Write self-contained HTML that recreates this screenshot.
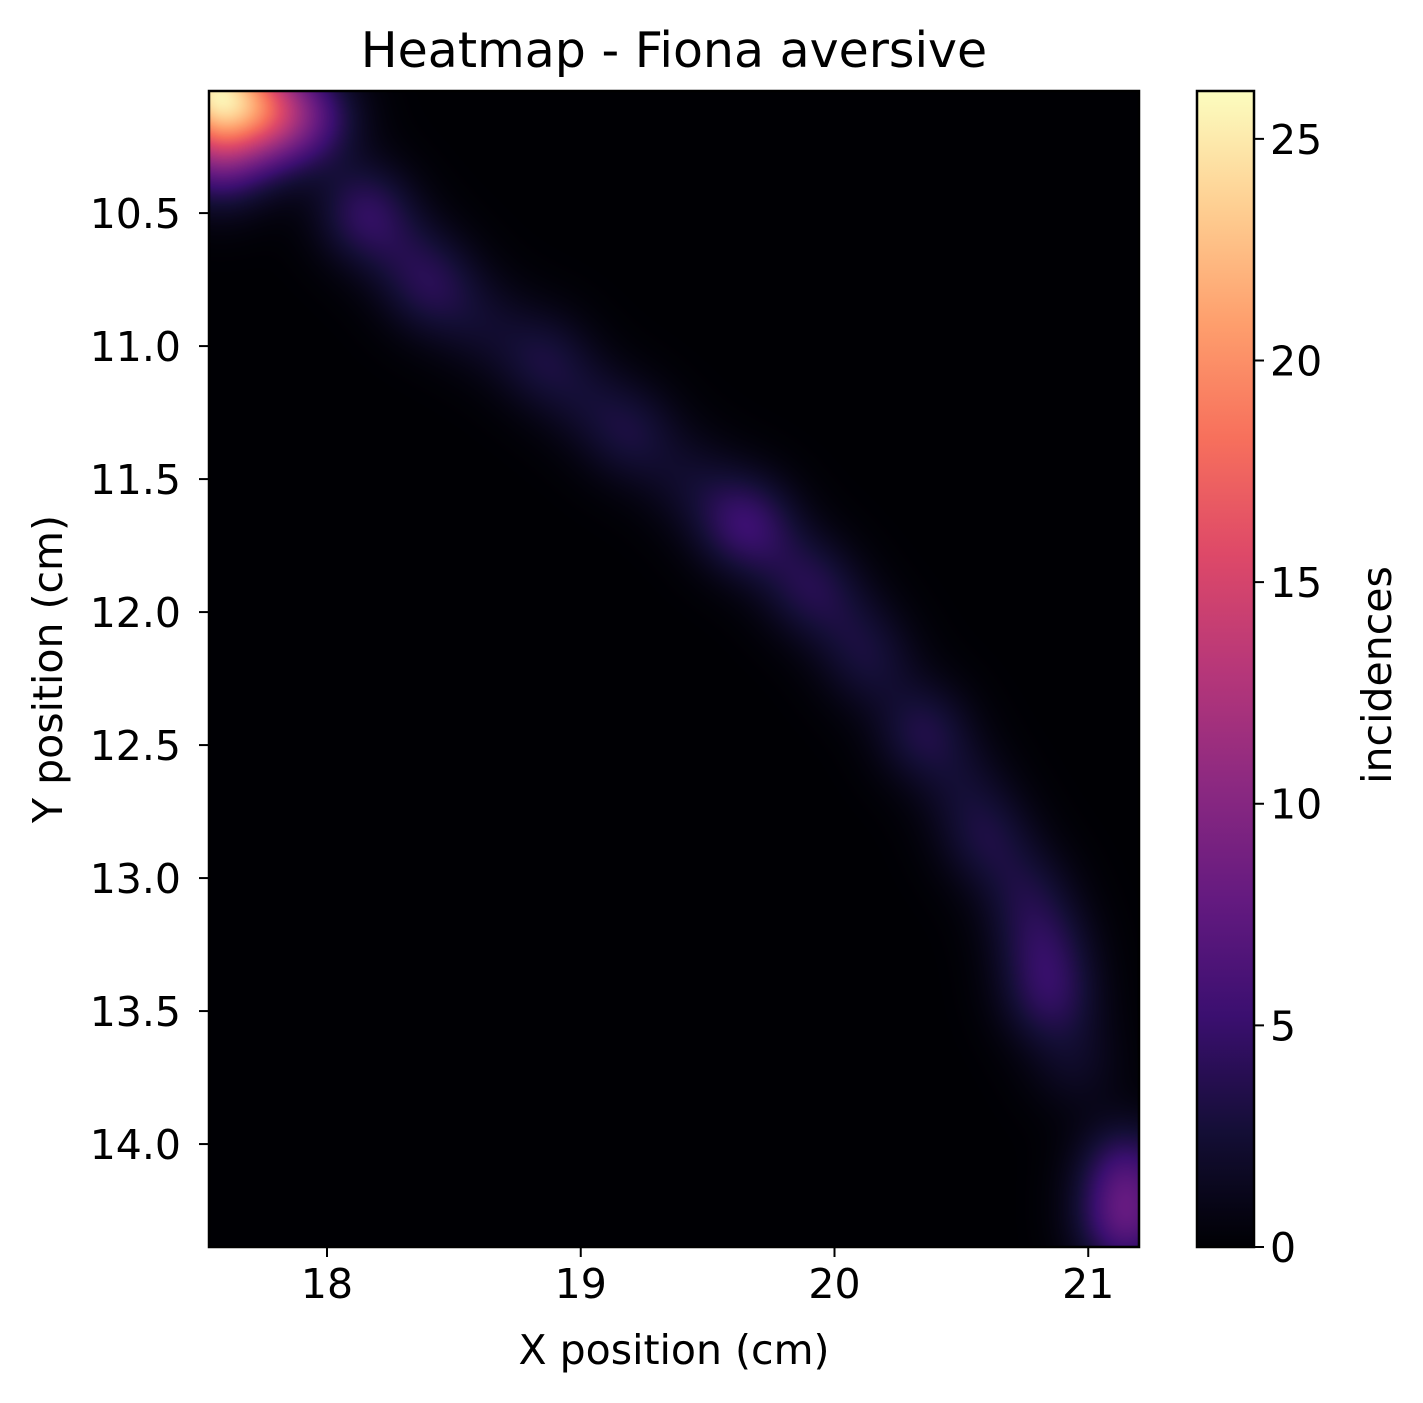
<!DOCTYPE html>
<html><head><meta charset="utf-8"><style>
body{margin:0;background:#fff;width:1423px;height:1403px;overflow:hidden;font-family:"DejaVu Sans","Liberation Sans",sans-serif}
#wrap{position:relative;width:1423px;height:1403px}
canvas{position:absolute;left:209px;top:91px}
svg{position:absolute;left:0;top:0}
</style></head><body>
<div id="wrap">
<canvas id="hm" width="930" height="1156"></canvas>
<svg id="s" width="1423" height="1403"></svg>
</div>
<script>
const ptX=[17.5,17.66,17.53,17.8,17.95,17.58,17.75,18.15,18.3,18.42,18.62,18.85,19.02,19.2,19.42,19.62,19.72,19.9,20.05,20.15,20.35,20.5,20.6,20.75,20.82,20.85,20.95,21.15,21.15];
const ptY=[10.0,10.06,10.2,10.1,10.15,10.32,10.22,10.5,10.65,10.78,10.92,11.05,11.2,11.33,11.5,11.65,11.72,11.9,12.05,12.2,12.45,12.65,12.85,13.05,13.25,13.45,13.7,14.1,14.3];
const ptV=[15,10,7,6,4,3,3,4,1.5,3,1.5,2.5,1.5,2.5,1.5,3.5,2,3,1.5,2,3,1.5,2.5,2.2,3,3.5,1.5,4.5,6];
const xTicks=[18,19,20,21];
const yTicks=[10.5,11.0,11.5,12.0,12.5,13.0,13.5,14.0];
const cTicks=[0,5,10,15,20,25];
const X0=17.535,X1=21.2,Y0=10.041,Y1=14.387,VMAX=26.08,SIG=0.13;
const L=209,T=91,W=930,H=1156;
const sx=v=>L+(v-X0)/(X1-X0)*W, sy=v=>T+(v-Y0)/(Y1-Y0)*H;
const CB={x:1197,w:57}; const cy=v=>T+H-v/VMAX*H;
const mag=[[0,0,4],[20,14,54],[59,15,112],[100,26,128],[140,41,129],[183,55,121],[222,73,104],[247,112,92],[254,159,109],[254,207,146],[252,253,191]];
function cmap(t){t=Math.max(0,Math.min(1,t));const f=t*10,i=Math.min(9,Math.floor(f)),r=f-i;return mag[i].map((c,k)=>c+(mag[i+1][k]-c)*r);}
const c=document.getElementById('hm').getContext('2d');const img=c.createImageData(W,H);
for(let py=0;py<H;py++){const yy=Y0+(py+0.5)/H*(Y1-Y0);for(let px=0;px<W;px++){const xx=X0+(px+0.5)/W*(X1-X0);let v=0;
for(let k=0;k<ptX.length;k++){const dx=xx-ptX[k],dy=yy-ptY[k];v+=ptV[k]*Math.exp(-(dx*dx+dy*dy)/(2*SIG*SIG));}
const col=cmap(v/VMAX),o=(py*W+px)*4;img.data[o]=col[0];img.data[o+1]=col[1];img.data[o+2]=col[2];img.data[o+3]=255;}}
c.putImageData(img,0,0);
const s=document.getElementById('s');const NS='http://www.w3.org/2000/svg';
function el(t,a,txt){const e=document.createElementNS(NS,t);for(const k in a)e.setAttribute(k,a[k]);if(txt!==undefined)e.textContent=txt;s.appendChild(e);return e;}
let e;
e=el('rect',{x:L,y:T,width:W,height:H,fill:'none',stroke:'#000','stroke-width':2.5});


xTicks.forEach(v=>{const x=sx(v);
e=el('line',{x1:x,x2:x,y1:T+H,y2:T+H+10,stroke:'#000','stroke-width':2});


e=el('text',{x:x,y:T+H+51,'font-size':41,'text-anchor':'middle'},String(v));

});
yTicks.forEach(v=>{const y=sy(v);
e=el('line',{x1:L-10,x2:L,y1:y,y2:y,stroke:'#000','stroke-width':2});


e=el('text',{x:L-28,y:y+15,'font-size':41,'text-anchor':'end'},v.toFixed(1));

});
const defs=el('defs',{});const g=document.createElementNS(NS,'linearGradient');g.setAttribute('id','cg');g.setAttribute('x1',0);g.setAttribute('x2',0);g.setAttribute('y1',1);g.setAttribute('y2',0);
mag.forEach((m,i)=>{const st=document.createElementNS(NS,'stop');st.setAttribute('offset',i/10);st.setAttribute('stop-color','rgb('+m.join(',')+')');g.appendChild(st);});defs.appendChild(g);
e=el('rect',{x:CB.x,y:T,width:CB.w,height:H,fill:'url(#cg)',stroke:'#000','stroke-width':2.5});


cTicks.forEach(v=>{const y=cy(v);
e=el('line',{x1:CB.x+CB.w,x2:CB.x+CB.w+10,y1:y,y2:y,stroke:'#000','stroke-width':2});


e=el('text',{x:CB.x+CB.w+16,y:y+15,'font-size':41},String(v));

});
e=el('text',{x:674,y:67,'font-size':49,'text-anchor':'middle'},'Heatmap - Fiona aversive');


e=el('text',{x:674,y:1364,'font-size':41,'text-anchor':'middle'},'X position (cm)');


e=el('text',{x:0,y:0,'font-size':41,'text-anchor':'middle',transform:'translate(62,669) rotate(-90)'},'Y position (cm)');


e=el('text',{x:0,y:0,'font-size':41,'text-anchor':'middle',transform:'translate(1391,675) rotate(-90)'},'incidences');


</script>
</body></html>
